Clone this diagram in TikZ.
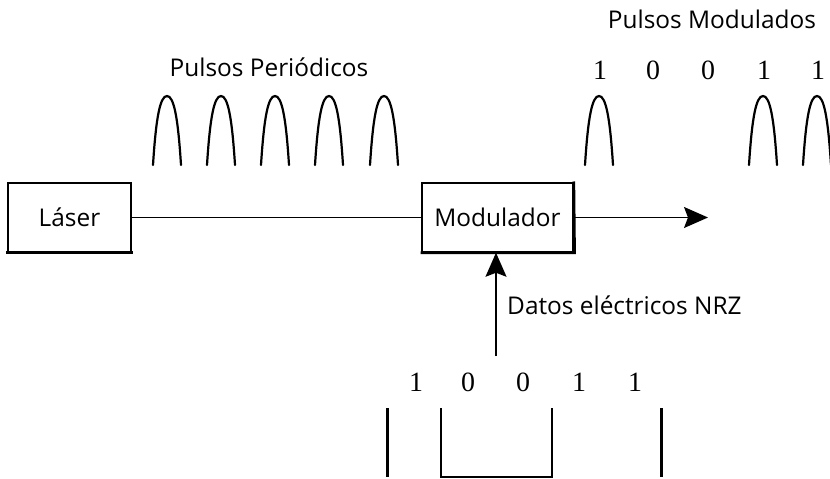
\documentclass[tikz,border=0pt]{standalone}
\usepackage{fontspec}
\setmainfont{Liberation Serif}
\newfontfamily\labelfont{Open Sans}
\usetikzlibrary{arrows.meta}
\tikzset{
  lbl/.style={font=\labelfont\fontsize{24.5}{27}\selectfont, inner sep=0pt},
  bit/.style={font=\fontsize{28}{30}\selectfont, inner sep=0pt},
  blockbox/.style={draw, line width=1.5bp, font=\labelfont\fontsize{24.5}{27}\selectfont, inner sep=0pt},
  conn/.style={line width=1.5bp},
  bigarrow/.style={conn, -{Stealth[length=24bp, width=21bp, inset=4bp]}},
  pulseline/.style={line width=2.2bp, line cap=round},
  nrzthick/.style={line width=3bp},
  nrzthin/.style={line width=2bp},
}
\newcommand{\pulse}[1]{%
  \draw[pulseline] (#1-14,165) .. controls (#1-11,118) and (#1-7,96) .. (#1,96)
     .. controls (#1+7,96) and (#1+11,118) .. (#1+14,165);}
\begin{document}
\begin{tikzpicture}[x=1bp, y=-1bp]
\useasboundingbox (0,0) rectangle (830,479);
% labels
\node[lbl] (perlbl) at (269,67) {Pulsos Periódicos};
\node[lbl] (modlbl) at (712,19) {Pulsos Modulados};
% periodic pulses
\foreach \c in {167,221,275,329,384} {\pulse{\c}}
% modulated bits and pulses
\foreach \c/\b [count=\i] in {600/1,653/0,708/0,764/1,818/1}
  {\node[bit] (tb\i) at (\c,70) {\b};}
\foreach \c in {599,763,817} {\pulse{\c}}
% blocks
\node[blockbox, minimum width=123bp, minimum height=69bp] (laser) at (69.5,217.5) {Láser};
\node[blockbox, minimum width=151bp, minimum height=69bp] (mod) at (497.5,217.5) {Modulador};
% shadow edges
\draw[line width=2.8bp] ([xshift=-0.75bp]laser.south west) -- ([xshift=0.75bp]laser.south east);
\draw[line width=2.8bp] ([xshift=-0.75bp]mod.south west) -- ([xshift=0.75bp]mod.south east) -- ([yshift=0.75bp]mod.north east);
% connectors
\coordinate (out) at (708,217.5);
\coordinate (datain) at (496,356);
\draw[conn] (laser) -- (mod);
\draw[bigarrow] (mod) -- (out);
\draw[bigarrow] (datain) -- (datain |- mod.south);
\node[lbl, anchor=west] (nrzlbl) at (507,305) {Datos eléctricos NRZ};
% NRZ bits
\foreach \c/\b [count=\i] in {416/1,468/0,523/0,579/1,635/1}
  {\node[bit] (bb\i) at (\c,382) {\b};}
% NRZ waveform
\draw[nrzthick] (387,408) -- (387,477);
\draw[nrzthin] (441,408) -- (441,477) -- (552,477) -- (552,408);
\draw[nrzthick] (661,408) -- (661,477);
\end{tikzpicture}
\end{document}
